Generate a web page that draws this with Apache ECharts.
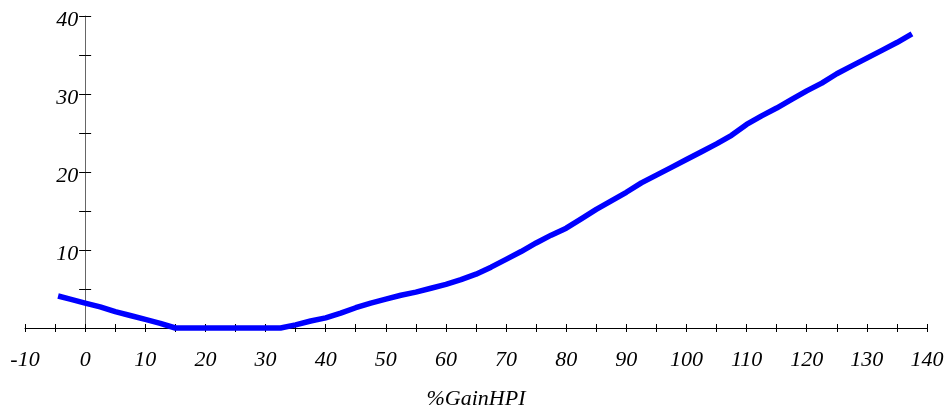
<!DOCTYPE html>
<html>
<head>
<meta charset="utf-8">
<script src="https://cdn.jsdelivr.net/npm/echarts@6/dist/echarts.min.js"></script>
<style>html,body{margin:0;padding:0;background:#fff}#c{width:950px;height:410px}</style>
</head>
<body>
<div id="c"></div>
<script>
const gainHPI = [-4.5, -2.5, 0, 2.5, 5, 7.5, 10, 12.5, 15, 17.5, 20, 22.5, 25, 27.5, 30, 32.5, 35, 37.5, 40, 42.5, 45, 47.5, 50, 52.5, 55, 57.5, 60, 62.5, 65, 67.5, 70, 72.5, 75, 77.5, 80, 82.5, 85, 87.5, 90, 92.5, 95, 97.5, 100, 102.5, 105, 107.5, 110, 112.5, 115, 117.5, 120, 122.5, 125, 127.5, 130, 132.5, 135, 137.5];
const values = [4.1, 3.7, 3.2, 2.7, 2.1, 1.6, 1.1, 0.6, 0, 0, 0, 0, 0, 0, 0, 0, 0.4, 0.9, 1.3, 1.9, 2.6, 3.2, 3.7, 4.2, 4.6, 5.1, 5.6, 6.2, 6.9, 7.8, 8.8, 9.8, 10.9, 11.9, 12.8, 14.0, 15.2, 16.3, 17.4, 18.6, 19.6, 20.6, 21.6, 22.6, 23.6, 24.7, 26.1, 27.2, 28.2, 29.3, 30.4, 31.4, 32.6, 33.6, 34.6, 35.6, 36.6, 37.7];
const xAxisName = '%GainHPI';
const xLabelTicks = [-10, 0, 10, 20, 30, 40, 50, 60, 70, 80, 90, 100, 110, 120, 130, 140];
const yLabelTicks = [10, 20, 30, 40];
const xMin = -10, xMax = 140;

const labelFont = { fontFamily: 'Liberation Serif', fontStyle: 'italic', fontSize: 22, color: '#000' };
const gridLeft = 25, gridRight = 23;
const plotWidth = 950 - gridLeft - gridRight;
// place the y axis where x = 0 falls on the x scale
const yAxisOffset = -plotWidth * (0 - xMin) / (xMax - xMin);

const chart = echarts.init(document.getElementById('c'));
const data = gainHPI.map((x, i) => [x, values[i]]);
chart.setOption({
  animation: false,
  grid: { left: gridLeft, right: gridRight, top: 16, bottom: 82, containLabel: false, outerBoundsMode: 'none' },
  xAxis: [{
    type: 'value', min: xMin, max: xMax, interval: 5, position: 'bottom',
    name: xAxisName, nameLocation: 'middle', nameGap: 60,
    nameTextStyle: Object.assign({}, labelFont),
    splitLine: { show: false },
    axisLine: { show: true, onZero: true, lineStyle: { color: '#000', width: 1 } },
    axisTick: { show: true, inside: false, length: 4, lineStyle: { color: '#000' } },
    axisLabel: Object.assign({ margin: 21, formatter: v => xLabelTicks.includes(v) ? String(v) : '' }, labelFont)
  }, {
    type: 'value', min: xMin, max: xMax, interval: 5, position: 'bottom',
    splitLine: { show: false },
    axisLine: { show: false, onZero: true },
    axisTick: { show: true, inside: true, length: 4, lineStyle: { color: '#000' } },
    axisLabel: { show: false }
  }],
  yAxis: [{
    type: 'value', min: 0, max: 40, interval: 5, position: 'left', offset: yAxisOffset,
    splitLine: { show: false },
    axisLine: { show: true, onZero: false, lineStyle: { color: '#666', width: 1 } },
    axisTick: { show: true, inside: false, length: 6, lineStyle: { color: '#000' } },
    axisLabel: Object.assign({ margin: 7, verticalAlign: 'top', lineHeight: 8, formatter: v => yLabelTicks.includes(v) ? String(v) : '' }, labelFont)
  }, {
    type: 'value', min: 0, max: 40, interval: 5, position: 'left', offset: yAxisOffset,
    splitLine: { show: false },
    axisLine: { show: false, onZero: false },
    axisTick: { show: true, inside: true, length: 6, lineStyle: { color: '#000' } },
    axisLabel: { show: false }
  }],
  series: [{
    type: 'line', data: data, xAxisIndex: 0, yAxisIndex: 0,
    showSymbol: false, symbol: 'none', clip: false, smooth: false,
    lineStyle: { color: '#0000ff', width: 5.5, join: 'round', cap: 'butt' },
    z: 5
  }]
});
</script>
</body>
</html>
